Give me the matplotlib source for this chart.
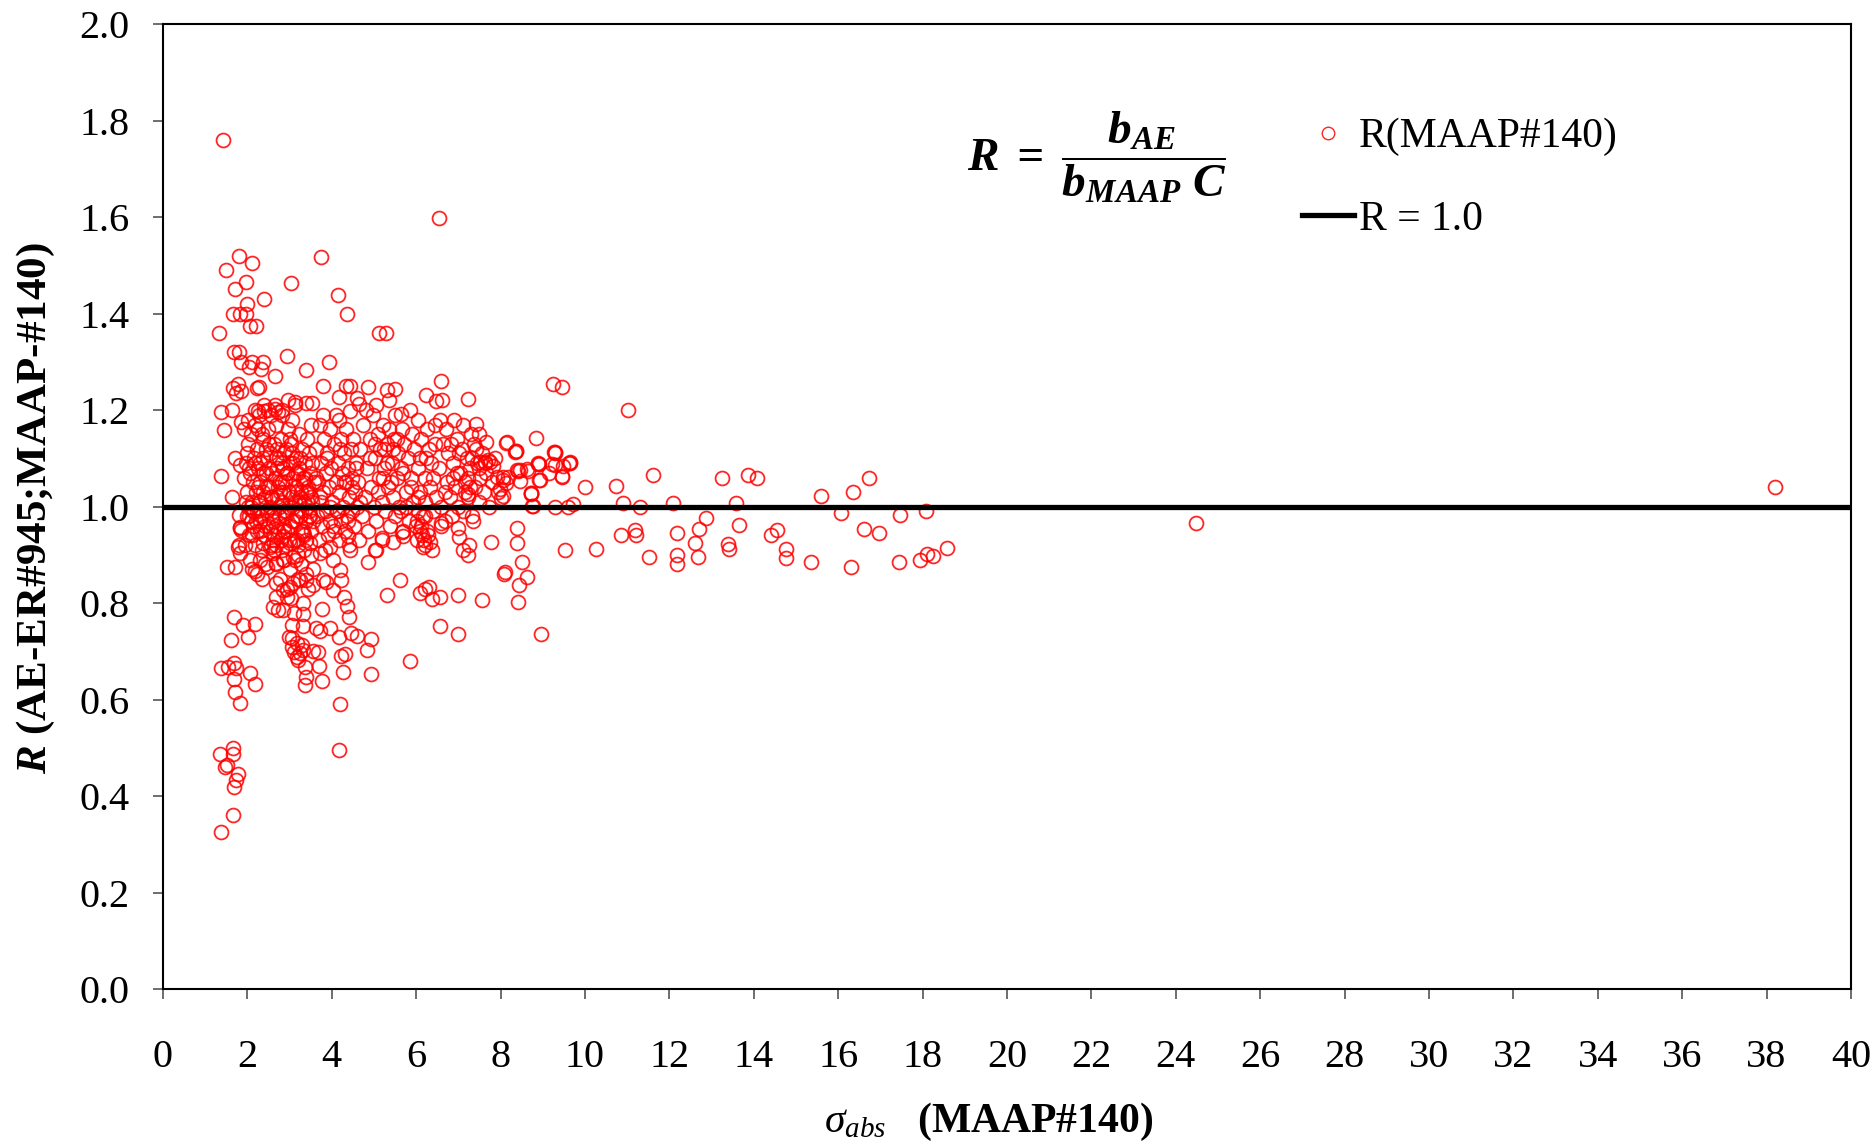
import matplotlib
matplotlib.use("Agg")
import matplotlib.pyplot as plt
import numpy as np

# sigma_abs (MAAP#140) and R values, grouped by region
sigma_left = [1.42, 1.33, 1.49, 1.80, 2.12, 1.96, 1.71, 2.00, 1.67, 1.82, 1.97, 2.06, 2.20, 1.69, 1.81,
              1.84, 2.11, 2.38, 2.05, 2.32, 1.67, 1.78, 1.72, 1.86, 2.22, 2.27, 1.37, 1.45, 1.64, 1.85,
              2.02, 2.26, 2.40, 2.50, 2.66, 2.72, 1.37, 1.64, 1.71, 1.82, 1.81, 1.82, 1.86, 1.79, 1.82,
              1.81, 1.82, 1.52, 1.71, 2.19, 1.62, 1.69, 1.90, 2.18, 2.01, 1.69, 1.37, 1.53, 1.69, 1.74,
              2.06, 2.17, 1.71, 1.82, 1.35, 1.51, 1.65, 1.65, 1.77, 1.73, 1.68, 1.47, 1.67, 1.37]
r_left = [1.76, 1.36, 1.49, 1.52, 1.505, 1.465, 1.45, 1.42, 1.40, 1.40, 1.40, 1.375, 1.375, 1.32, 1.32,
          1.30, 1.30, 1.30, 1.29, 1.285, 1.245, 1.255, 1.235, 1.24, 1.245, 1.247, 1.195, 1.158, 1.20, 1.175,
          1.18, 1.198, 1.197, 1.20, 1.203, 1.195, 1.064, 1.02, 1.10, 1.086, 0.982, 0.958, 0.951, 0.917, 0.903,
          0.92, 0.955, 0.874, 0.874, 0.867, 0.723, 0.772, 0.754, 0.757, 0.73, 0.642, 0.666, 0.668, 0.675, 0.666,
          0.656, 0.632, 0.616, 0.592, 0.487, 0.464, 0.499, 0.488, 0.446, 0.433, 0.419, 0.461, 0.361, 0.325]

sigma_upper = [2.93, 2.66, 3.40, 3.93, 3.04, 3.74, 2.39, 4.15, 4.35, 5.13, 5.28, 6.55, 3.14, 3.40, 3.54,
               3.80, 4.17, 4.34, 4.44, 4.86, 5.32, 5.51, 3.80, 4.17, 4.43, 4.60, 4.65, 5.65, 6.23, 6.46,
               6.60, 6.57, 7.23, 7.43, 7.65, 8.16, 8.36, 8.85, 9.25, 9.45, 9.27, 9.47, 9.64, 10.01, 8.89,
               8.72, 8.41, 8.62, 8.05, 7.91, 7.75, 7.63]
r_upper = [1.313, 1.27, 1.284, 1.30, 1.464, 1.517, 1.431, 1.439, 1.40, 1.36, 1.36, 1.597, 1.217, 1.215, 1.215,
           1.25, 1.228, 1.25, 1.25, 1.248, 1.241, 1.244, 1.19, 1.179, 1.199, 1.224, 1.212, 1.192, 1.232, 1.219,
           1.261, 1.179, 1.222, 1.171, 1.134, 1.134, 1.116, 1.142, 1.253, 1.247, 1.112, 1.083, 1.092, 1.040, 1.090,
           1.027, 1.074, 1.077, 1.055, 1.062, 1.093, 1.093]

sigma_lower = [8.77, 9.29, 9.60, 9.72, 9.53, 10.26, 8.40, 8.38, 8.50, 8.62, 8.44, 8.07, 8.10, 8.41, 7.78,
               7.25, 7.24, 7.12, 7.00, 7.02, 7.34, 5.62, 5.31, 6.09, 6.21, 6.30, 6.56, 6.98, 7.57, 8.95,
               6.56, 6.37, 6.98, 5.86, 4.17, 4.19, 4.31, 2.99, 3.05, 3.10, 3.17, 3.21, 3.25, 3.17, 3.07,
               3.32, 3.29, 3.05, 3.32, 3.31, 3.37, 3.39, 3.77, 3.70, 3.36, 2.61, 2.73, 2.85, 2.93, 2.69,
               2.85, 3.01, 2.69, 3.09, 3.25, 3.40, 3.56, 3.80, 3.87, 4.03, 4.23, 4.19, 2.30, 2.46, 2.69,
               2.85, 3.09, 2.61, 2.54, 2.81, 3.01, 3.17, 2.85, 2.61, 2.38, 3.32, 3.48, 3.72, 3.96, 4.43,
               4.39, 5.06, 4.87, 5.44, 5.66, 6.33, 6.37, 6.17, 6.01, 5.70, 6.60, 4.21, 4.27, 4.94, 4.83,
               4.94, 4.59, 4.46, 4.18, 4.41, 4.30, 4.35, 3.76, 3.96, 3.72, 3.62, 3.56, 3.68, 5.02, 5.18]
r_lower = [1.002, 0.998, 1.0, 1.005, 0.91, 0.911, 0.956, 0.924, 0.884, 0.854, 0.837, 0.861, 0.865, 0.803, 0.927,
           0.92, 0.90, 0.91, 0.955, 0.937, 0.971, 0.848, 0.817, 0.82, 0.829, 0.834, 0.813, 0.817, 0.806, 0.736,
           0.753, 0.808, 0.735, 0.679, 0.495, 0.59, 0.694, 0.73, 0.709, 0.699, 0.689, 0.682, 0.696, 0.717, 0.727,
           0.703, 0.713, 0.754, 0.752, 0.777, 0.63, 0.647, 0.638, 0.67, 0.668, 0.792, 0.785, 0.785, 0.813, 0.813,
           0.827, 0.834, 0.841, 0.841, 0.848, 0.848, 0.837, 0.848, 0.844, 0.827, 0.848, 0.868, 0.889, 0.875, 0.882,
           0.889, 0.896, 0.903, 0.917, 0.91, 0.924, 0.931, 0.938, 0.931, 0.924, 0.944, 0.924, 0.903, 0.917, 0.91,
           0.938, 0.91, 0.886, 0.927, 0.948, 0.927, 0.91, 0.917, 0.931, 0.938, 0.965, 0.691, 0.658, 0.653, 0.703,
           0.725, 0.732, 0.737, 0.73, 0.772, 0.813, 0.794, 0.787, 0.748, 0.741, 0.748, 0.701, 0.699, 0.91, 0.934]

sigma_core_a = [1.93, 1.97, 2.01, 1.99, 2.04, 2.07, 2.03, 2.11, 2.09, 2.14, 2.16, 2.13, 2.19, 2.21, 2.18,
                2.24, 2.26, 2.23, 2.29, 2.31, 2.28, 2.34, 2.36, 2.33, 2.38, 2.41, 2.39, 2.44, 2.46, 2.43,
                2.48, 2.51, 2.49, 2.53, 2.56, 2.54, 2.58, 2.60, 2.57, 2.06, 2.12, 2.22, 2.35, 2.17, 2.27,
                2.40, 1.95, 2.00, 2.08, 2.15, 2.20, 2.25, 2.30, 2.37, 2.45, 2.52, 2.59]
r_core_a = [1.16, 1.09, 1.13, 1.03, 0.98, 1.07, 0.94, 1.01, 1.15, 0.96, 1.10, 1.05, 0.92, 1.03, 1.17,
            0.99, 1.08, 1.12, 0.95, 1.05, 1.01, 0.91, 1.10, 0.98, 1.14, 1.02, 0.94, 1.07, 0.99, 0.88,
            1.16, 1.04, 0.96, 1.11, 0.92, 1.00, 1.07, 0.97, 1.19, 0.89, 0.87, 0.86, 0.85, 1.20, 1.19,
            1.21, 0.92, 0.98, 1.00, 0.99, 0.97, 1.04, 1.09, 1.03, 1.12, 1.08, 1.02]

sigma_core_b = [2.62, 2.64, 2.66, 2.63, 2.68, 2.70, 2.72, 2.69, 2.74, 2.76, 2.73, 2.78, 2.80, 2.82, 2.79,
                2.84, 2.86, 2.83, 2.88, 2.90, 2.87, 2.92, 2.94, 2.91, 2.96, 2.98, 2.95, 3.00, 3.02, 2.99,
                3.04, 3.06, 3.03, 3.08, 3.10, 3.07, 3.12, 3.14, 3.11, 3.16, 3.18, 3.15, 3.20, 3.22, 3.19,
                3.24, 3.26, 3.23, 3.28, 3.30, 3.27, 3.32, 3.34, 3.31, 3.36, 3.38, 3.35, 3.40, 3.42, 3.39,
                3.44, 3.46, 3.43, 3.48, 3.50, 3.47, 3.52, 3.54, 3.51, 3.56, 3.58, 3.55, 2.65, 2.81, 2.97,
                3.13, 2.67, 2.75, 2.85, 2.93, 3.01, 3.09, 3.17, 3.25, 3.33, 3.41, 3.49, 2.71, 2.89, 3.05,
                3.21, 3.37, 3.53]
r_core_b = [1.13, 0.99, 1.06, 0.91, 1.17, 1.02, 0.95, 0.88, 1.10, 0.98, 1.04, 0.85, 1.14, 1.01, 0.93,
            1.08, 0.96, 1.19, 0.89, 1.05, 1.11, 0.99, 0.83, 0.92, 1.16, 1.03, 0.95, 1.09, 0.87, 1.00,
            1.13, 0.97, 0.81, 1.06, 0.93, 1.18, 1.01, 0.89, 0.78, 1.10, 0.98, 1.04, 0.92, 1.15, 0.85,
            1.02, 0.95, 1.08, 0.88, 1.12, 0.99, 1.05, 0.91, 0.80, 1.09, 0.97, 1.01, 0.86, 1.14, 0.93,
            1.03, 0.99, 0.83, 1.07, 0.95, 1.11, 0.90, 1.01, 1.17, 0.97, 1.05, 0.87, 1.21, 1.20, 1.22,
            1.21, 0.96, 1.00, 1.03, 1.07, 0.96, 1.00, 1.03, 0.98, 0.95, 1.00, 0.98, 1.08, 0.98, 1.02,
            1.07, 1.06, 1.09]

sigma_core_c = [3.62, 3.65, 3.67, 3.69, 3.71, 3.74, 3.75, 3.77, 3.80, 3.81, 3.83, 3.86, 3.87, 3.89, 3.90,
                3.93, 3.95, 3.96, 3.99, 4.01, 4.02, 4.05, 4.06, 4.09, 4.11, 4.12, 4.15, 4.17, 4.18, 4.21,
                4.23, 4.24, 4.27, 4.29, 4.31, 4.33, 4.34, 4.37, 4.39, 4.41, 4.42, 4.45, 4.47, 4.48, 4.51,
                4.52, 4.55, 4.57, 4.59]
r_core_c = [1.12, 0.98, 1.05, 0.93, 1.17, 1.01, 1.09, 0.96, 1.03, 1.14, 0.91, 1.07, 0.99, 1.11, 0.94,
            1.04, 1.16, 0.97, 1.08, 1.01, 0.89, 1.13, 0.95, 1.05, 1.19, 0.99, 1.09, 0.93, 1.03, 1.14,
            0.97, 1.07, 1.00, 1.11, 0.95, 1.05, 1.16, 0.98, 1.08, 1.02, 0.92, 1.12, 0.99, 1.06, 1.14,
            0.96, 1.03, 1.09, 1.00]

sigma_core_d = [4.62, 4.68, 4.71, 4.75, 4.79, 4.83, 4.86, 4.90, 4.93, 4.97, 5.00, 5.03, 5.06, 5.09, 5.12,
                5.15, 5.18, 5.21, 5.24, 5.27, 5.30, 5.33, 5.36, 5.39, 5.42, 5.45, 5.48, 5.51, 5.54, 5.57,
                5.60, 5.64, 5.68, 5.72, 5.76, 5.80, 5.84, 5.88, 5.92, 5.96, 6.00, 6.04, 6.08, 6.12, 6.16,
                6.20, 6.24, 6.28, 6.32, 6.36, 6.40, 6.44, 6.48, 4.65, 4.80, 5.05, 5.20, 5.35, 5.50, 5.66,
                5.85, 6.05, 6.25, 6.45, 5.10, 5.25, 5.40, 5.55, 5.70, 5.90, 6.10, 6.30, 6.02, 6.08, 6.14,
                6.18, 6.22, 6.26, 6.12, 6.05, 6.20]
r_core_d = [1.05, 1.12, 0.98, 1.17, 1.02, 1.08, 0.95, 1.14, 1.04, 1.19, 1.00, 1.10, 0.97, 1.15, 1.06,
            1.12, 1.01, 1.17, 1.08, 0.99, 1.13, 1.04, 1.16, 0.96, 1.09, 1.02, 1.14, 0.98, 1.06, 1.11,
            1.00, 1.08, 0.95, 1.13, 1.03, 1.10, 0.97, 1.06, 1.01, 1.12, 0.96, 1.08, 1.03, 1.14, 0.98,
            1.06, 1.10, 0.94, 1.04, 1.09, 0.99, 1.13, 1.02, 0.93, 1.20, 1.21, 0.93, 1.22, 1.19, 1.16,
            1.20, 1.18, 1.16, 1.17, 1.03, 1.12, 1.05, 1.14, 1.07, 1.15, 1.10, 1.12, 0.97, 0.95, 0.94,
            0.93, 0.92, 0.95, 0.96, 0.99, 0.98]

sigma_core_e = [6.55, 6.60, 6.64, 6.68, 6.72, 6.76, 6.80, 6.84, 6.88, 6.92, 6.96, 7.00, 7.04, 7.08, 7.12,
                7.16, 7.20, 7.24, 7.28, 7.32, 7.36, 7.40, 7.44, 7.48, 7.52, 7.56, 7.60, 7.66, 7.72, 7.80,
                7.86, 7.95, 6.58, 6.70, 6.90, 7.10, 7.30, 7.50, 6.62, 6.82, 7.02, 7.22, 7.42, 7.62, 7.24,
                7.28, 8.75, 9.29, 9.64, 9.45, 9.21, 8.90, 8.93, 8.72, 8.34, 8.38, 8.45, 8.02, 7.98, 8.06,
                7.82, 7.71, 7.51, 8.18, 8.14, 8.14, 8.36, 9.28, 8.88, 9.63, 9.29, 9.15, 9.45, 8.92, 8.66,
                8.46, 8.71, 8.06]
r_core_e = [1.08, 1.00, 1.13, 0.97, 1.05, 1.11, 1.02, 0.98, 1.09, 1.04, 1.14, 1.00, 1.07, 1.12, 0.99,
            1.05, 1.10, 1.02, 1.08, 0.98, 1.13, 1.04, 1.09, 1.01, 1.06, 1.11, 1.03, 1.07, 1.00, 1.05,
            1.10, 1.03, 0.96, 1.16, 1.18, 1.17, 1.15, 1.15, 1.22, 1.13, 1.11, 1.06, 1.12, 1.09, 1.027,
            1.041, 1.001, 1.110, 1.091, 1.062, 1.089, 1.089, 1.055, 1.029, 1.114, 1.076, 1.052, 1.017, 1.037, 1.062,
            1.083, 1.096, 1.093, 1.062, 1.048, 1.132, 1.115, 1.112, 1.088, 1.090, 1.086, 1.069, 1.063, 1.055, 1.074,
            1.076, 1.029, 1.021]

sigma_core_f = [2.47, 1.96, 3.12, 2.71, 2.23, 3.38, 2.05, 2.88, 3.24, 2.56, 1.92, 2.99, 3.47, 2.34, 2.81,
                2.14, 3.06, 2.63, 3.31, 2.42, 2.18, 2.77, 3.19, 2.52, 2.09, 2.94, 3.43, 2.29, 2.67, 3.02,
                2.38, 1.99, 2.86, 3.15, 2.59, 3.35, 2.26, 2.74, 3.09, 2.45, 2.11, 2.91, 3.28, 2.54, 2.02,
                2.83, 3.52, 2.31, 2.69, 3.22, 3.71, 4.12, 5.21, 6.05, 3.88, 4.47, 5.63, 6.88, 4.03, 4.91,
                5.44, 7.15, 3.63, 4.28, 5.02, 6.41, 7.48, 3.95, 4.66, 5.87, 6.69, 4.19, 5.31, 6.22, 7.33,
                3.79, 4.57, 5.76, 6.97, 4.38]
r_core_f = [1.04, 1.01, 0.97, 1.12, 0.95, 1.03, 1.08, 0.99, 1.10, 1.02, 1.06, 0.93, 0.98, 1.15, 1.05,
            0.99, 1.11, 0.94, 1.06, 0.96, 1.09, 1.03, 0.90, 1.13, 0.97, 1.07, 1.04, 1.01, 0.92, 1.14,
            1.07, 1.11, 0.95, 1.07, 0.98, 0.94, 1.16, 1.05, 1.09, 1.00, 0.94, 1.12, 1.03, 0.95, 1.00,
            1.09, 1.02, 0.97, 1.10, 1.01, 1.02, 0.99, 1.06, 1.02, 1.10, 1.04, 0.99, 1.06, 0.96, 1.10,
            1.12, 1.03, 1.06, 1.05, 1.13, 1.06, 1.08, 1.00, 1.01, 1.04, 1.03, 1.12, 1.09, 1.01, 1.10,
            0.99, 1.08, 1.00, 1.07, 0.97]

sigma_right = [11.03, 11.62, 13.24, 13.87, 14.08, 16.73, 15.59, 16.34, 10.73, 10.91, 11.30, 12.09, 13.58, 16.06,
               17.46, 18.07, 12.87, 12.71, 13.64, 12.61, 12.19, 10.85, 11.18, 11.22, 13.40, 13.42, 14.40, 14.54,
               16.61, 16.97, 14.76, 14.76, 11.52, 12.19, 12.19, 12.68, 15.36, 16.31, 17.44, 17.94, 18.10, 18.25,
               18.59, 24.49, 38.19]
r_right = [1.201, 1.065, 1.060, 1.065, 1.060, 1.060, 1.022, 1.030, 1.042, 1.008, 0.998, 1.008, 1.007, 0.987,
           0.982, 0.991, 0.976, 0.953, 0.961, 0.925, 0.946, 0.942, 0.951, 0.940, 0.922, 0.911, 0.940, 0.951,
           0.953, 0.946, 0.911, 0.893, 0.896, 0.900, 0.880, 0.895, 0.885, 0.874, 0.886, 0.889, 0.901, 0.897,
           0.915, 0.965, 1.041]

sigma = (sigma_left + sigma_upper + sigma_lower + sigma_core_a + sigma_core_b
         + sigma_core_c + sigma_core_d + sigma_core_e + sigma_core_f + sigma_right)
ratio = (r_left + r_upper + r_lower + r_core_a + r_core_b
         + r_core_c + r_core_d + r_core_e + r_core_f + r_right)

x_ticks = list(range(0, 41, 2))
y_ticks = [0.0, 0.2, 0.4, 0.6, 0.8, 1.0, 1.2, 1.4, 1.6, 1.8, 2.0]

plt.rcParams['font.family'] = ['Liberation Serif', 'DejaVu Serif']
plt.rcParams['mathtext.fontset'] = 'custom'
plt.rcParams['mathtext.rm'] = 'Liberation Serif'
plt.rcParams['mathtext.it'] = 'Liberation Serif:italic'
plt.rcParams['mathtext.bf'] = 'Liberation Serif:italic:bold'

fig = plt.figure(figsize=(18.75, 11.46), dpi=100)
ax = fig.add_axes([0.0869, 0.137, 0.9003, 0.842])

pts, = ax.plot(sigma, ratio, linestyle='none', marker='o', markersize=10,
               markerfacecolor='none', markeredgecolor='#ff0000', markeredgewidth=1.3,
               alpha=0.85, label='R(MAAP#140)')
ref = ax.axhline(1.0, color='black', linewidth=3.8, label='R = 1.0', zorder=3)

ax.set_xlim(0, 40)
ax.set_ylim(0, 2.0)
ax.set_xticks(x_ticks)
ax.set_yticks(y_ticks)
ax.set_yticklabels([f'{v:.1f}' for v in y_ticks])
ax.tick_params(direction='out', length=7, width=1.2, labelsize=29, color='#555555')
ax.tick_params(axis='x', pad=29)
ax.tick_params(axis='y', pad=17)
for s in ax.spines.values():
    s.set_linewidth(1.5)
    s.set_color('black')

ax.set_xlabel(r'$\sigma_{abs}$' + '   (MAAP#140)', fontsize=30, fontweight='bold')
ax.xaxis.label.set_va('center')
ax.xaxis.set_label_coords(0.489, -0.138)
ax.set_ylabel(r'$\mathbf{R}$' + ' (AE-ER#945;MAAP-#140)', fontsize=31, fontweight='bold')
ax.yaxis.label.set_va('center')
ax.yaxis.set_label_coords(-0.075, 0.498)

ax.text(0.553, 0.862, r'$\mathbf{R\ =\ \dfrac{b_{AE}}{b_{MAAP}\ C}}$', transform=ax.transAxes,
        fontsize=34, ha='center', va='center')

leg = ax.legend(handles=[pts, ref], loc='upper left', bbox_to_anchor=(0.665, 0.92),
                frameon=False, fontsize=30, handlelength=1.25, handletextpad=0.12,
                labelspacing=1.05, borderaxespad=0)
for h in leg.legend_handles:
    if h.get_marker() == 'o':
        h.set_markersize(9)
        h.set_markeredgewidth(1.0)

fig.savefig('out.png', dpi=100)
